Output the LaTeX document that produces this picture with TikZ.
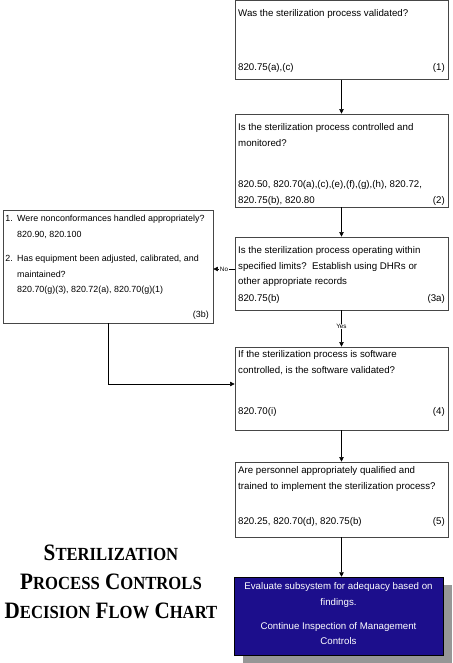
\documentclass[tikz,border=0pt]{standalone}
\usepackage{fontspec}
\setmainfont{Liberation Sans}
\newfontfamily\titlefont{Liberation Serif}
\usetikzlibrary{arrows.meta}
\definecolor{navy}{RGB}{28,14,140}
\definecolor{shadowgray}{RGB}{150,150,150}
\definecolor{boxline}{RGB}{70,70,70}
\newcommand\SCap[2]{{\fontsize{23.5}{28}\selectfont #1}{\fontsize{18.5}{22}\selectfont #2}}
\newcommand\SCsp{{\fontsize{23.5}{28}\selectfont\ }}
\tikzset{
  box/.style={draw=boxline, line width=0.8pt, fill=white, inner sep=0pt},
  txt/.style={inner sep=0pt, font=\fontsize{9.7}{15.3}\selectfont, align=left},
  txtb/.style={inner sep=0pt, font=\fontsize{8.9}{15.3}\selectfont, align=left},
  conn/.style={draw=black, line width=0.5pt},
  arr/.style={conn, -{Triangle[width=4.5pt,length=4.5pt]}},
  lbl/.style={fill=white, inner sep=0.6pt, font=\fontsize{6.3}{7}\selectfont},
}
\begin{document}
\begin{tikzpicture}[x=1pt,y=-1pt]
\useasboundingbox (0,0) rectangle (452,663);
% boxes
\node[box, minimum width=213pt, minimum height=79pt] (b1) at (341.5,40) {};
\node[box, minimum width=213pt, minimum height=93pt] (b2) at (341.5,160.5) {};
\node[box, minimum width=213pt, minimum height=73pt] (b3a) at (341.5,273.5) {};
\node[box, minimum width=210pt, minimum height=113pt] (b3b) at (108,266.5) {};
\node[box, minimum width=213pt, minimum height=83pt] (b4) at (341.5,388.5) {};
\node[box, minimum width=213pt, minimum height=75pt] (b5) at (341.5,499.5) {};
\node[fill=shadowgray, minimum width=209pt, minimum height=78pt, inner sep=0pt] (sh) at (347.5,624) {};
\node[fill=navy, draw=black, line width=0.5pt, minimum width=209pt, minimum height=78pt, inner sep=0pt] (b6) at (338.5,616) {};
% box 1
\node[txt, anchor=north west] (q1) at (238,8.8) {Was the sterilization process validated?};
\node[txt, anchor=base west] (r1) at (238,71) {820.75(a),(c)};
\node[txt, anchor=base east] (n1) at (445,71) {(1)};
% box 2
\node[txt, anchor=north west] (q2) at (238,123.7) {Is the sterilization process controlled and\\monitored?};
\node[txt, anchor=north west] (r2) at (238,180.7) {820.50, 820.70(a),(c),(e),(f),(g),(h), 820.72,\\820.75(b), 820.80};
\node[txt, anchor=base east] (n2) at (445,203) {(2)};
% box 3a
\node[txt, anchor=north west] (q3a) at (238,246.7) {Is the sterilization process operating within\\specified limits?\ \ Establish using DHRs or\\other appropriate records};
\node[txt, anchor=base west] (r3a) at (238,301) {820.75(b)};
\node[txt, anchor=base east] (n3a) at (445,301) {(3a)};
% box 3b
\node[txtb, anchor=north east] (k1) at (13,215.2) {1.};
\node[txtb, anchor=north west] (q3b1) at (17,215.2) {Were nonconformances handled appropriately?\\820.90, 820.100};
\node[txtb, anchor=north east] (k2) at (13,255.2) {2.};
\node[txtb, anchor=north west] (q3b2) at (17,255.2) {Has equipment been adjusted, calibrated, and\\maintained?\\820.70(g)(3), 820.72(a), 820.70(g)(1)};
\node[txtb, anchor=base east] (n3b) at (209,317) {(3b)};
% box 4
\node[txt, anchor=north west] (q4) at (238,350.7) {If the sterilization process is software\\controlled, is the software validated?};
\node[txt, anchor=base west] (r4) at (238,414) {820.70(i)};
\node[txt, anchor=base east] (n4) at (445,414) {(4)};
% box 5
\node[txt, anchor=north west] (q5) at (238,466.7) {Are personnel appropriately qualified and\\trained to implement the sterilization process?};
\node[txt, anchor=base west] (r5) at (238,524) {820.25, 820.70(d), 820.75(b)};
\node[txt, anchor=base east] (n5) at (445,524) {(5)};
% final box text
\node[txt, align=center, text=white, anchor=north] (q6) at (338.5,582.7) {Evaluate subsystem for adequacy based on\\findings.\\[9pt]Continue Inspection of Management\\Controls};
% title
\node[inner sep=0pt, align=center, font=\titlefont\bfseries, xscale=0.9] (title) at (111,582) {\SCap{S}{TERILIZATION}\\[12pt]\SCap{P}{ROCESS}\SCsp\SCap{C}{ONTROLS}\\[12pt]\SCap{D}{ECISION}\SCsp\SCap{F}{LOW}\SCsp\SCap{C}{HART}};
% connectors
\draw[arr] (b1.south) -- (b2.north);
\draw[arr] (b2.south) -- (b3a.north);
\draw[arr] ([yshift=4.5pt]b3a.west) -- ([yshift=4.5pt]b3a.west -| b3b.east) node[lbl, pos=0.5] (no) {No};
\draw[arr] (b3a.south) -- (b4.north) node[lbl, pos=0.45] (yes) {Yes};
\draw[arr] (b3b.south) |- ([yshift=4.5pt]b4.west);
\draw[arr] (b4.south) -- (b5.north);
\draw[arr] (b5.south) -- (b5.south |- b6.north);
\end{tikzpicture}
\end{document}
